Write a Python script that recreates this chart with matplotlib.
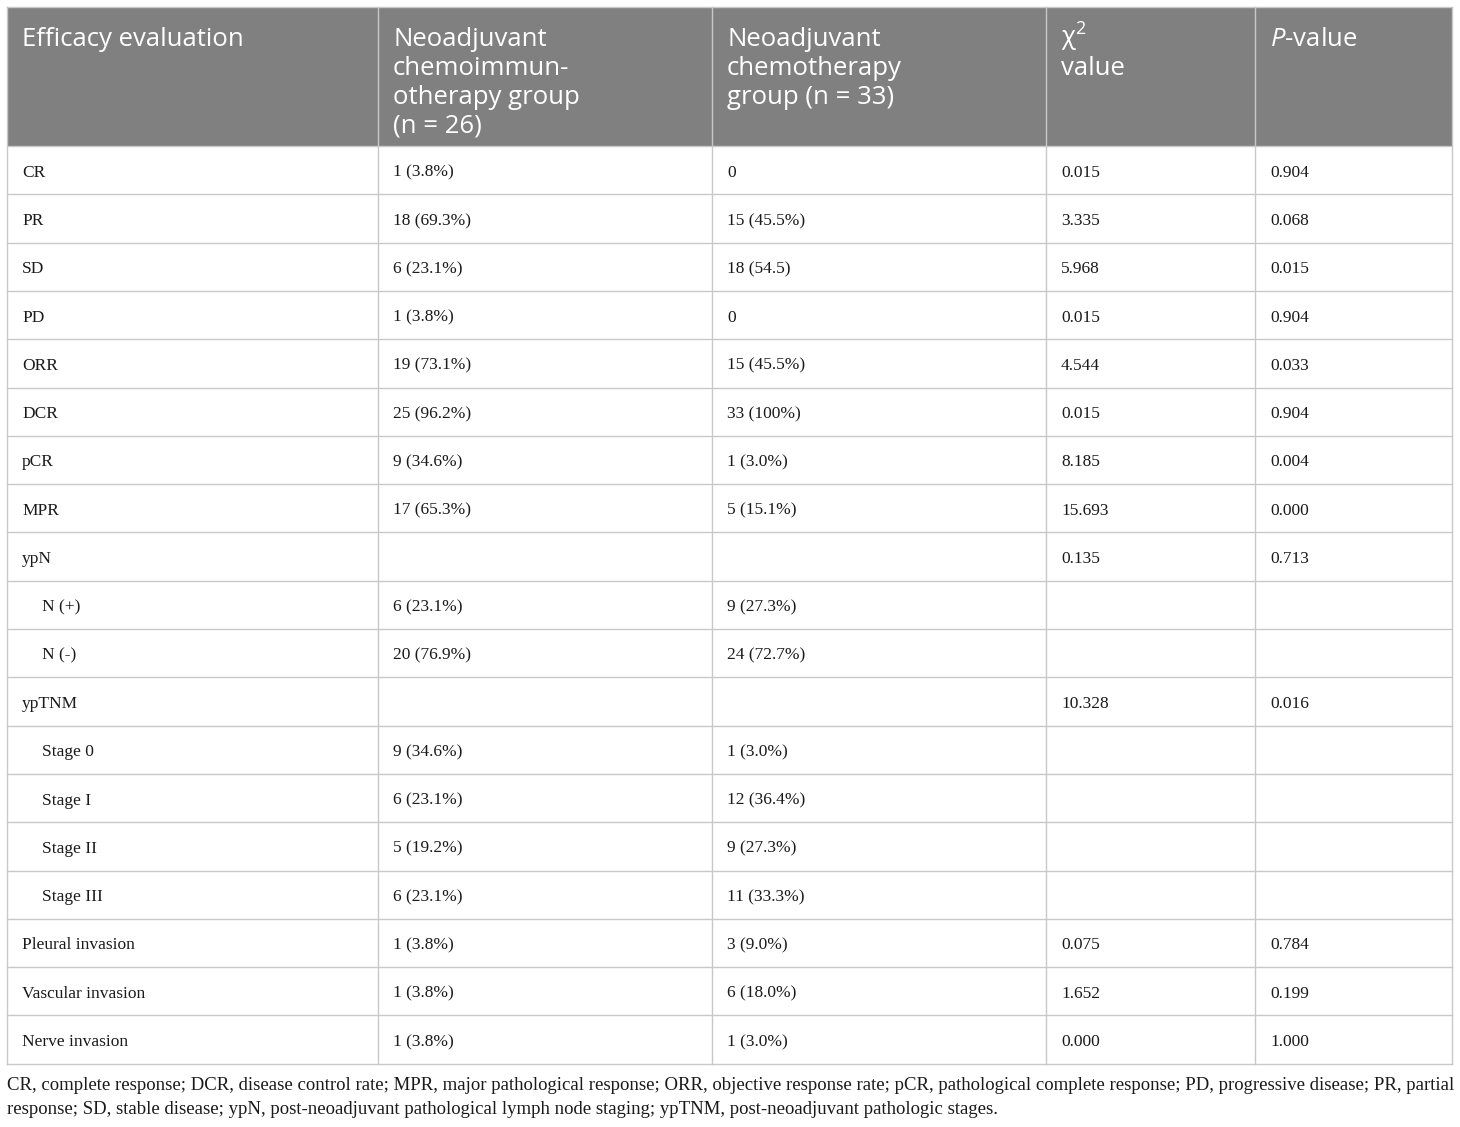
import matplotlib
matplotlib.use("Agg")
import matplotlib.pyplot as plt

plt.rcParams["mathtext.fontset"] = "custom"
plt.rcParams["mathtext.rm"] = "Open Sans"
plt.rcParams["mathtext.it"] = "Open Sans:italic"

# table content
headers = [
    "Efficacy evaluation",
    "Neoadjuvant\nchemoimmun-\notherapy group\n(n = 26)",
    "Neoadjuvant\nchemotherapy\ngroup (n = 33)",
    "χ$^{2}$\nvalue",
    "$P$-value",
]
row_labels = ["CR", "PR", "SD", "PD", "ORR", "DCR", "pCR", "MPR", "ypN",
              "N (+)", "N (-)", "ypTNM", "Stage 0", "Stage I", "Stage II",
              "Stage III", "Pleural invasion", "Vascular invasion", "Nerve invasion"]
indented = ["N (+)", "N (-)", "Stage 0", "Stage I", "Stage II", "Stage III"]
chemoimmuno = ["1 (3.8%)", "18 (69.3%)", "6 (23.1%)", "1 (3.8%)", "19 (73.1%)",
               "25 (96.2%)", "9 (34.6%)", "17 (65.3%)", "", "6 (23.1%)",
               "20 (76.9%)", "", "9 (34.6%)", "6 (23.1%)", "5 (19.2%)",
               "6 (23.1%)", "1 (3.8%)", "1 (3.8%)", "1 (3.8%)"]
chemo = ["0", "15 (45.5%)", "18 (54.5)", "0", "15 (45.5%)", "33 (100%)",
         "1 (3.0%)", "5 (15.1%)", "", "9 (27.3%)", "24 (72.7%)", "",
         "1 (3.0%)", "12 (36.4%)", "9 (27.3%)", "11 (33.3%)", "3 (9.0%)",
         "6 (18.0%)", "1 (3.0%)"]
chi2 = ["0.015", "3.335", "5.968", "0.015", "4.544", "0.015", "8.185",
        "15.693", "0.135", "", "", "10.328", "", "", "", "", "0.075",
        "1.652", "0.000"]
pvals = ["0.904", "0.068", "0.015", "0.904", "0.033", "0.904", "0.004",
         "0.000", "0.713", "", "", "0.016", "", "", "", "", "0.784",
         "0.199", "1.000"]
footnote = ("CR, complete response; DCR, disease control rate; MPR, major pathological response; "
            "ORR, objective response rate; pCR, pathological complete response; PD, progressive disease; PR, partial\n"
            "response; SD, stable disease; ypN, post-neoadjuvant pathological lymph node staging; "
            "ypTNM, post-neoadjuvant pathologic stages.")

W, H = 1460, 1127
fig = plt.figure(figsize=(W / 100, H / 100), dpi=100)
ax = fig.add_axes([0, 0, 1, 1])
ax.set_xlim(0, W)
ax.set_ylim(H, 0)
ax.axis("off")

col_x = [7, 378, 712, 1046, 1255, 1452]
top, head_bot = 7, 146
row_h = 48.3
n = len(row_labels)
bottom = head_bot + n * row_h
grid_c = "#c8c8c8"
text_c = "#1a1a1a"
serif = ["Liberation Serif", "DejaVu Serif"]
sans = ["Open Sans", "DejaVu Sans"]

# header band, one text per line so the chi^2 superscript doesn't push "value" down
ax.add_patch(plt.Rectangle((col_x[0], top), col_x[-1] - col_x[0], head_bot - top,
                           facecolor="#808080", edgecolor="none", zorder=0))
for j, h in enumerate(headers):
    for k, line in enumerate(h.split("\n")):
        ax.text(col_x[j] + 15, 46 + k * 28.8, line, color="white", fontsize=18.5,
                family=sans, va="baseline", ha="left")

# grid lines
for x in col_x:
    ax.plot([x, x], [top, bottom], color=grid_c, lw=1)
ax.plot([col_x[0], col_x[-1]], [top, top], color=grid_c, lw=1)
for i in range(n + 1):
    y = head_bot + i * row_h
    ax.plot([col_x[0], col_x[-1]], [y, y], color=grid_c, lw=1)

# body
cols = [row_labels, chemoimmuno, chemo, chi2, pvals]
for i in range(n):
    yc = head_bot + (i + 0.5) * row_h
    for j, col in enumerate(cols):
        pad = 15
        if j == 0 and row_labels[i] in indented:
            pad = 35
        ax.text(col_x[j] + pad, yc + 2.5, col[i], color=text_c, fontsize=12.5,
                family=serif, va="center", ha="left")

ax.text(7, bottom + 13, footnote, color=text_c, fontsize=13.5, family=serif,
        va="top", ha="left", linespacing=1.6)

fig.savefig("out.png", dpi=100)
